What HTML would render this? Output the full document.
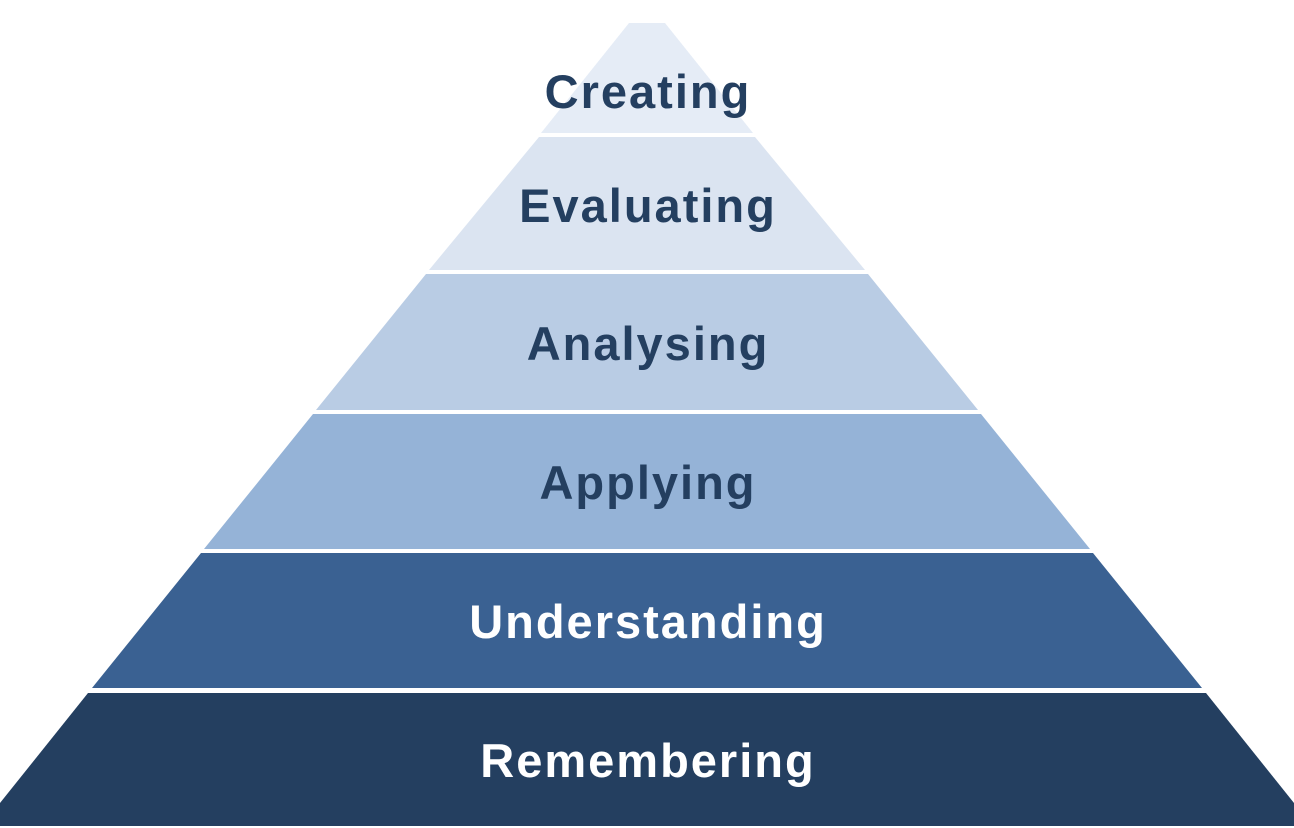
<!DOCTYPE html>
<html><head><style>
html,body{margin:0;padding:0;background:#fff;width:1294px;height:828px;overflow:hidden}
svg text{font-family:"Liberation Sans",sans-serif;font-weight:bold;font-size:47px;letter-spacing:2px;text-anchor:middle}
</style></head><body>
<svg width="1294" height="828" viewBox="0 0 1294 828">
<polygon points="629,23 665,23 753,133 541,133" fill="#e5ecf6"/>
<polygon points="539,137 755,137 865,270 429,270" fill="#dbe4f1"/>
<polygon points="426,274 868,274 978,410 316,410" fill="#b9cce4"/>
<polygon points="313,414 981,414 1090,549 204,549" fill="#95b3d7"/>
<polygon points="201,553 1093,553 1202,688 92,688" fill="#3a6192"/>
<polygon points="88,693 1206,693 1294,803 1294,826 0,826 0,803" fill="#243f60"/>
<text x="648" y="108" fill="#243f60">Creating</text>
<text x="648" y="222" fill="#243f60">Evaluating</text>
<text x="648" y="360" fill="#243f60">Analysing</text>
<text x="648" y="499" fill="#243f60">Applying</text>
<text x="648" y="638" fill="#ffffff">Understanding</text>
<text x="648" y="777" fill="#ffffff">Remembering</text>
</svg>
</body></html>
